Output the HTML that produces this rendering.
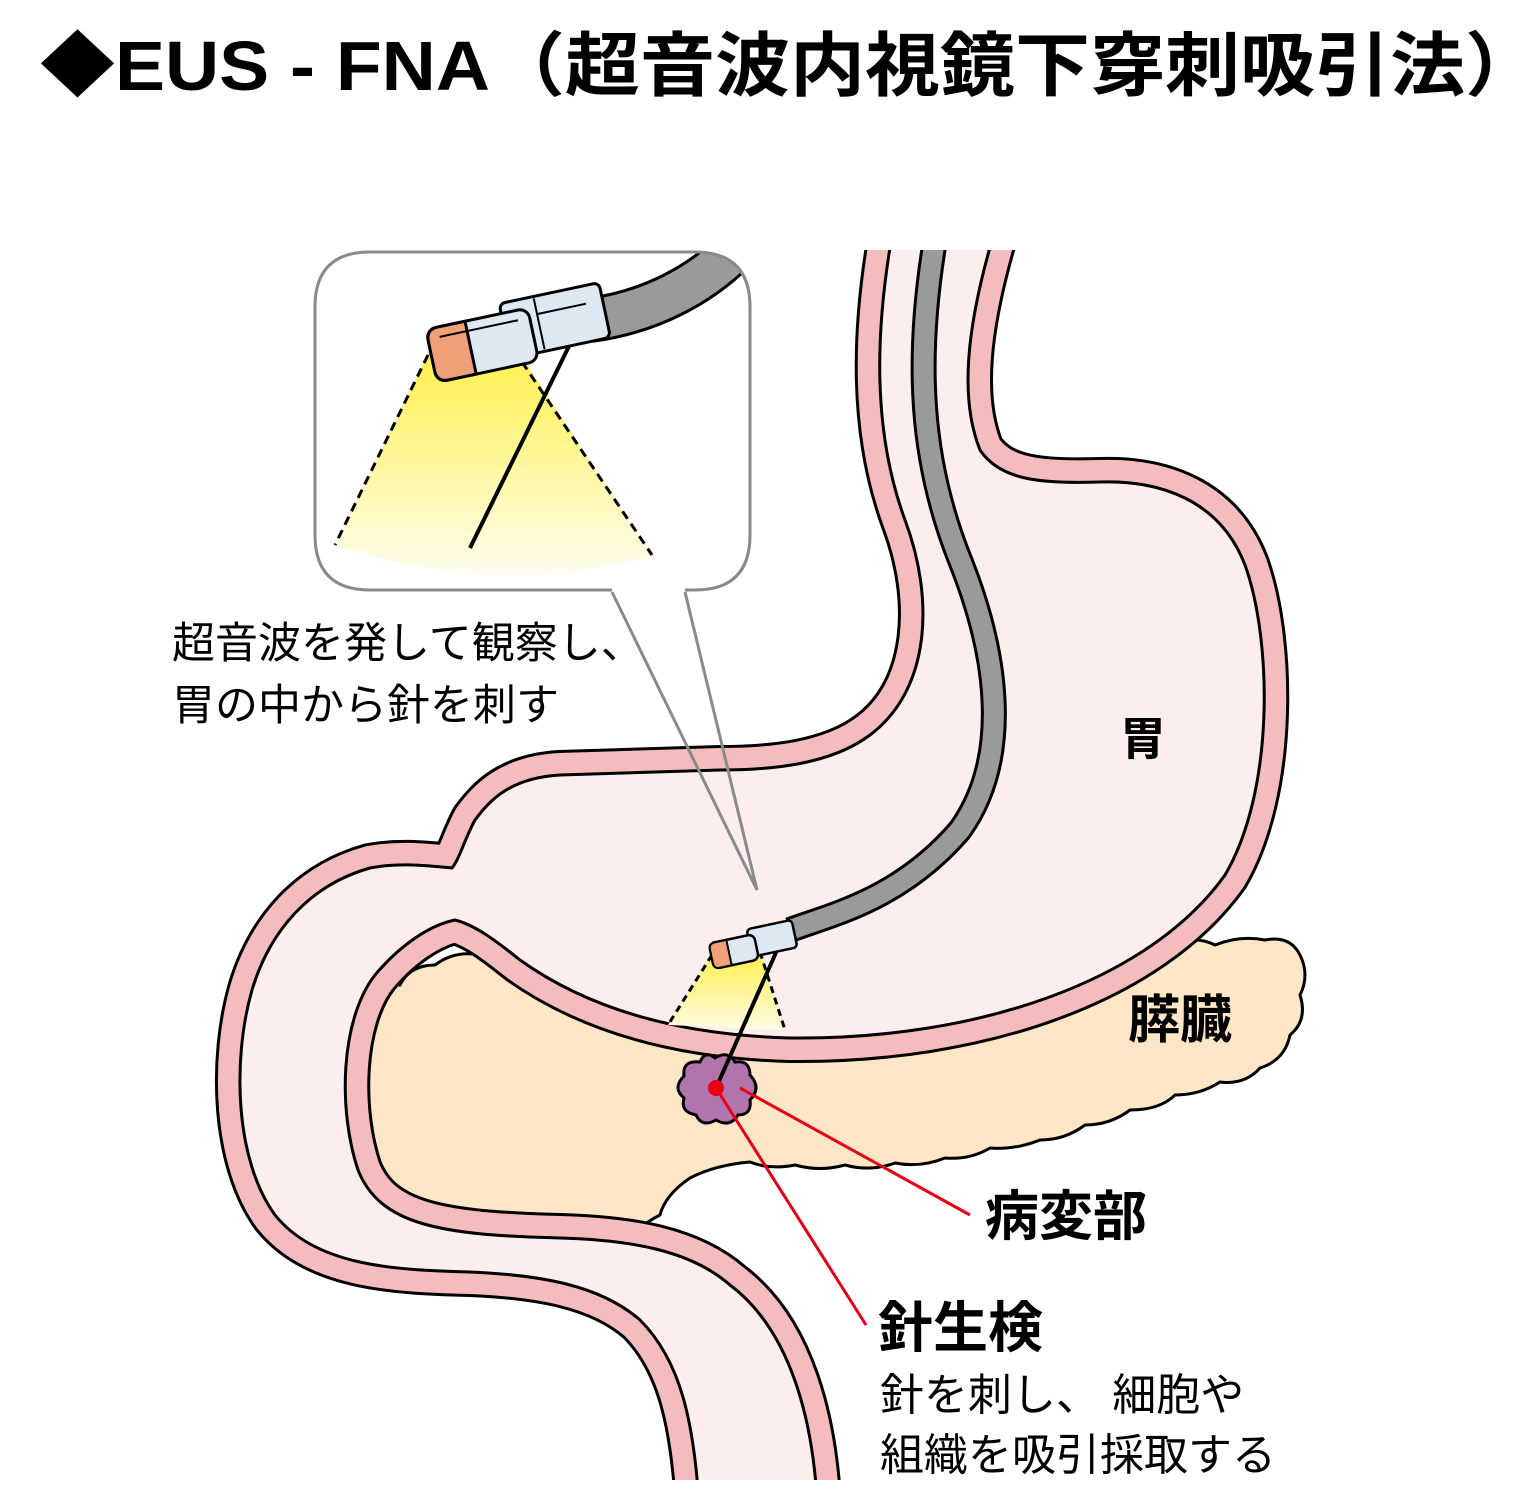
<!DOCTYPE html>
<html><head><meta charset="utf-8"><style>
html,body{margin:0;padding:0;background:#fff;}
svg{display:block;}
text{font-family:"Liberation Sans","Noto Sans CJK JP",sans-serif;}
</style></head><body>
<svg width="1520" height="1500" viewBox="0 0 1520 1500" xmlns="http://www.w3.org/2000/svg">
<defs>
<clipPath id="pg"><rect x="0" y="250" width="1520" height="1230"/></clipPath>
<clipPath id="co"><path d="M370,252 H695 Q750,252 750,307 V535 Q750,590 695,590 H370 Q315,590 315,535 V307 Q315,252 370,252 Z"/></clipPath>
<linearGradient id="yg" x1="0" y1="0" x2="0" y2="1"><stop offset="0" stop-color="#fff04a"/><stop offset="1" stop-color="#fffdf0"/></linearGradient>
<linearGradient id="yg2" x1="0" y1="0" x2="0" y2="1"><stop offset="0" stop-color="#fff04a"/><stop offset="1" stop-color="#fffbe6"/></linearGradient>
<path id="lum" d="M893,230 C875,330 872,430 905,520 C935,600 930,690 870,735 C830,765 770,770 720,770 L560,775 C510,778 490,800 475,820 C465,838 460,858 452,868 C430,866 400,862 370,868 C310,885 270,930 252,990 C232,1060 235,1160 275,1215 C315,1265 390,1270 470,1272 C540,1275 600,1285 640,1320 C680,1360 695,1420 700,1520 L818,1520 C815,1420 790,1330 730,1285 C690,1250 630,1240 560,1238 C440,1235 380,1225 358,1170 C338,1110 340,1020 375,975 C400,945 430,925 455,920 C475,925 495,940 520,960 C590,1010 680,1035 790,1038 C980,1040 1150,980 1225,875 C1275,790 1272,640 1245,565 C1220,500 1160,480 1100,482 C1040,484 1000,480 980,450 C960,400 965,330 995,230 Z"/>
<path id="tube" d="M935,240 C915,360 920,460 960,560 C1000,660 1010,760 960,830 C900,900 830,915 790,930"/>
<path id="tube2" d="M590,320 C650,312 700,285 735,250"/>
</defs>

<text x="40" y="90" font-size="70" font-weight="bold" fill="#000" textLength="1500" lengthAdjust="spacingAndGlyphs">◆EUS - FNA（超音波内視鏡下穿刺吸引法）</text>

<!-- pancreas -->
<path d="M360,1010 Q375,985 400,985 Q410,965 435,965 Q455,950 480,955 L1130,950 Q1150,938 1175,945 Q1195,935 1215,945 Q1240,935 1265,940 Q1290,935 1300,955 Q1310,975 1300,995 Q1308,1020 1290,1035 Q1285,1060 1260,1068 Q1245,1085 1220,1082 Q1200,1095 1175,1095 Q1160,1110 1130,1110 Q1110,1125 1085,1125 Q1065,1140 1040,1140 Q1015,1150 990,1148 Q970,1160 945,1158 Q920,1168 895,1163 Q870,1172 845,1165 Q820,1172 795,1165 Q770,1170 750,1162 Q715,1165 690,1178 Q665,1195 660,1215 Q640,1225 630,1240 L360,1240 Z" fill="#fde6c6" stroke="#000" stroke-width="3"/>

<!-- stomach + duodenum -->
<g clip-path="url(#pg)">
<use href="#lum" fill="none" stroke="#000" stroke-width="50"/>
<use href="#lum" fill="none" stroke="#f4bcbc" stroke-width="44"/>
<use href="#lum" fill="#fdeeee" stroke="#000" stroke-width="3"/>
<use href="#tube" fill="none" stroke="#000" stroke-width="26"/>
<use href="#tube" fill="none" stroke="#9a9a9a" stroke-width="20"/>
</g>

<!-- small fan -->
<polygon points="712,955 760,952 785,1030 668,1025" fill="url(#yg2)"/>
<line x1="712" y1="955" x2="668" y2="1025" stroke="#000" stroke-width="3" stroke-dasharray="7,5"/>
<line x1="760" y1="952" x2="785" y2="1030" stroke="#000" stroke-width="3" stroke-dasharray="7,5"/>
<!-- lesion -->
<path d="M715,1058 Q728,1050 735,1062 Q750,1060 750,1075 Q762,1088 750,1100 Q752,1115 738,1115 Q730,1128 716,1120 Q702,1128 696,1115 Q680,1112 684,1098 Q672,1088 684,1076 Q682,1060 700,1062 Q705,1050 715,1058 Z" fill="#b075ad" stroke="#000" stroke-width="3"/>
<line x1="778" y1="948" x2="716" y2="1088" stroke="#000" stroke-width="4"/>
<circle cx="716" cy="1088" r="8" fill="#e60012"/>
<line x1="716" y1="1088" x2="866" y2="1325" stroke="#e60012" stroke-width="3"/>
<line x1="740" y1="1088" x2="970" y2="1215" stroke="#e60012" stroke-width="3"/>
<!-- small tip -->
<g transform="rotate(-12 755 945)">
<rect x="750" y="928" width="46" height="28" rx="4" fill="#dce9f3" stroke="#000" stroke-width="2.5"/>
<rect x="710" y="934" width="46" height="26" rx="6" fill="#dce9f3" stroke="#000" stroke-width="2.5"/>
<path d="M716,934 h12 v26 h-12 q-6,0 -6,-6 v-14 q0,-6 6,-6z" fill="#f0a078" stroke="#000" stroke-width="2"/>
</g>

<!-- callout -->
<path d="M370,252 H695 Q750,252 750,307 V535 Q750,590 695,590 H370 Q315,590 315,535 V307 Q315,252 370,252 Z" fill="#fff"/>
<g clip-path="url(#co)">
<path d="M430,350 L525,362 L652,555 Q500,600 335,545 Z" fill="url(#yg)"/>
<line x1="428" y1="355" x2="335" y2="545" stroke="#000" stroke-width="3" stroke-dasharray="9,6"/>
<line x1="522" y1="362" x2="652" y2="555" stroke="#000" stroke-width="3" stroke-dasharray="9,6"/>
<use href="#tube2" fill="none" stroke="#000" stroke-width="46"/>
<use href="#tube2" fill="none" stroke="#9a9a9a" stroke-width="40"/>
<line x1="572" y1="340" x2="470" y2="548" stroke="#000" stroke-width="4"/>
<g transform="rotate(-12 520 330)">
<rect x="505" y="300" width="102" height="56" rx="6" fill="#dce9f3" stroke="#000" stroke-width="3"/>
<line x1="540" y1="318" x2="590" y2="318" stroke="#000" stroke-width="2"/>
<line x1="540" y1="302" x2="540" y2="354" stroke="#000" stroke-width="2"/>
<rect x="428" y="310" width="104" height="54" rx="10" fill="#dce9f3" stroke="#000" stroke-width="3"/>
<path d="M440,310 h28 v54 h-28 q-12,0 -12,-12 v-30 q0,-12 12,-12z" fill="#f0a078" stroke="#000" stroke-width="3"/>
<line x1="440" y1="320" x2="520" y2="320" stroke="#000" stroke-width="2"/>
</g>
</g>
<path d="M612,590 H370 Q315,590 315,535 V307 Q315,252 370,252 H695 Q750,252 750,307 V535 Q750,590 695,590 H685" fill="none" stroke="#8a8a8a" stroke-width="3"/>
<polyline points="612,592 757,890 685,592" fill="none" stroke="#8a8a8a" stroke-width="3"/>

<text x="172" y="658" font-size="43" fill="#000">超音波を発して観察し、</text>
<text x="172" y="720" font-size="43" fill="#000">胃の中から針を刺す</text>
<text x="1120" y="755" font-size="46" font-weight="bold" fill="#000">胃</text>
<text x="1128" y="1038" font-size="52" font-weight="bold" fill="#000">膵臓</text>
<text x="985" y="1235" font-size="54" font-weight="bold" fill="#000">病変部</text>
<text x="878" y="1347" font-size="55" font-weight="bold" fill="#000">針生検</text>
<text x="880" y="1410" font-size="44" fill="#000">針を刺し、 細胞や</text>
<text x="880" y="1470" font-size="44" fill="#000">組織を吸引採取する</text>
</svg>
</body></html>
